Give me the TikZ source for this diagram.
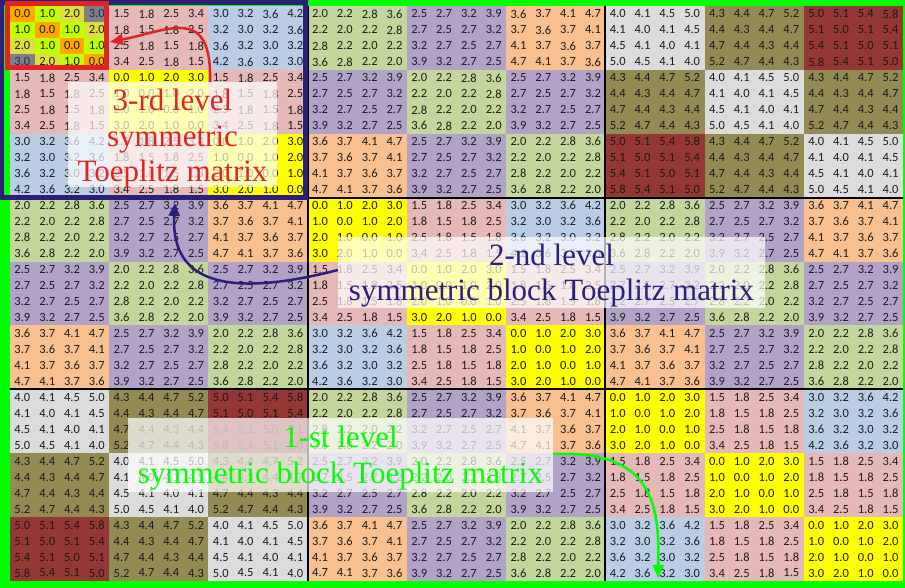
\documentclass[tikz,border=0pt]{standalone}
\usepackage{fontspec}
\setmainfont{Liberation Serif}
\newfontfamily\cellfont{Carlito}
\usetikzlibrary{arrows.meta}
\definecolor{b00}{HTML}{FFFF00}
\definecolor{b01}{HTML}{E6B9B8}
\definecolor{b02}{HTML}{B9CDE5}
\definecolor{b10}{HTML}{C3D69B}
\definecolor{b11}{HTML}{B3A2C7}
\definecolor{b12}{HTML}{FAC090}
\definecolor{b20}{HTML}{DCDCDC}
\definecolor{b21}{HTML}{948A54}
\definecolor{b22}{HTML}{953735}
\definecolor{tl0}{HTML}{FFA800}
\definecolor{tl1}{HTML}{C0FF00}
\definecolor{tl2}{HTML}{DEDE40}
\definecolor{tl3}{HTML}{808080}
\definecolor{lvlA}{HTML}{00FF00}
\definecolor{lvlB}{HTML}{2C1F7A}
\definecolor{lvlC}{HTML}{E02424}
\definecolor{numink}{HTML}{1A1A1A}
\definecolor{numblue}{HTML}{1F1F80}
\def\XO{10}\def\YO{6}\def\CW{24.806}\def\CH{15.972}
\tikzset{
  cell/.style={inner sep=0pt, font=\cellfont\fontsize{12.5}{12.5}\selectfont},
  framebox/.style={draw, line width=5pt, inner sep=0pt},
  lblbox/.style={fill=white, fill opacity=0.7, inner sep=0pt},
  lbltext/.style={inner sep=0pt, align=center, font=\fontsize{31}{35.5}\selectfont},
  conn/.style={line width=2.5pt, -{Triangle[length=13pt,width=11pt]}},
  blocksep/.style={line width=2pt, black},
}
\begin{document}
\begin{tikzpicture}[x=1pt,y=-1pt]
\useasboundingbox (0,0) rectangle (905,588);
% level-1 frame (green)
\fill[lvlA] (0,0) rectangle (905,588);
% block backgrounds
\foreach \I in {0,...,8}{
  \foreach \J in {0,...,8}{
    \pgfmathtruncatemacro\da{abs(int(\I/3)-int(\J/3))}
    \pgfmathtruncatemacro\db{abs(mod(\I,3)-mod(\J,3))}
    \fill[b\da\db] ({\XO+4*\J*\CW},{\YO+4*\I*\CH}) rectangle ({\XO+4*(\J+1)*\CW},{\YO+4*(\I+1)*\CH});
  }
}
% special colouring of the first 4x4 block
\foreach \r in {0,...,3}{
  \foreach \c in {0,...,3}{
    \pgfmathtruncatemacro\dc{abs(\r-\c)}
    \fill[tl\dc] ({\XO+\c*\CW},{\YO+\r*\CH}) rectangle ++(\CW,\CH);
  }
}
% numbers
\foreach \r in {0,...,35}{
  \foreach \c in {0,...,35}{
    \pgfmathtruncatemacro\da{abs(int(\r/12)-int(\c/12))}
    \pgfmathtruncatemacro\db{abs(mod(int(\r/4),3)-mod(int(\c/4),3))}
    \pgfmathtruncatemacro\dc{abs(mod(\r,4)-mod(\c,4))}
    \pgfmathtruncatemacro\tv{round(10*sqrt(4*\da*\da+2.25*\db*\db+\dc*\dc))}
    \pgfmathtruncatemacro\ti{int(\tv/10)}
    \pgfmathtruncatemacro\tf{\tv-10*\ti}
    \def\ink{numink}
    \ifnum\r<4 \ifnum\c<4 \ifnum\dc=3 \def\ink{numblue}\fi\fi\fi
    \node[cell, text=\ink] (c-\r-\c) at ({\XO+(\c+0.5)*\CW},{\YO+(\r+0.5)*\CH}) {\ti.\tf};
  }
}
% level-1 block separators
\draw[blocksep] ({\XO+12*\CW},\YO) -- ({\XO+12*\CW},{\YO+36*\CH});
\draw[blocksep] ({\XO+24*\CW},\YO) -- ({\XO+24*\CW},{\YO+36*\CH});
\draw[blocksep] (\XO,{\YO+12*\CH}) -- ({\XO+36*\CW},{\YO+12*\CH});
\draw[blocksep] (\XO,{\YO+24*\CH}) -- ({\XO+36*\CW},{\YO+24*\CH});
% level-2 and level-3 frames
\node[framebox, draw=lvlB, minimum width=304pt, minimum height=195pt] (lvl2) at (153.5,100) {};
\node[framebox, draw=lvlC, minimum width=99.5pt, minimum height=63.5pt] (lvl3) at (56.75,35.75) {};
% labels
\node[lblbox, minimum width=209pt, minimum height=105pt] (t3box) at (172.5,134.5) {};
\node[lbltext, text=lvlC] (t3) at (172.5,139) {3-rd level\\symmetric\\Toeplitz matrix};
\node[lblbox, minimum width=427pt, minimum height=71pt] (t2box) at (551.5,272.5) {};
\node[lbltext, text=lvlB] (t2) at (551.5,275.5) {2-nd level\\symmetric block Toeplitz matrix};
\node[lblbox, minimum width=425pt, minimum height=74pt] (t1box) at (340.5,455) {};
\node[lbltext, text=lvlA] (t1) at (340.5,458) {1-st level\\symmetric block Toeplitz matrix};
% arrows
\coordinate (a3s) at (210,82);
\coordinate (a3e) at (110,42);
\draw[conn, lvlC] (a3s) .. controls (212,5) and (170,30) .. (a3e);
\coordinate (a2s) at (338,270);
\coordinate (a2e) at (175,203);
\draw[conn, lvlB] (a2s) .. controls (240,295) and (170,290) .. (a2e);
\coordinate (a1s) at (553,454);
\coordinate (a1e) at (658,578);
\draw[conn, lvlA] (a1s) .. controls (650,450) and (660,500) .. (a1e);
\end{tikzpicture}
\end{document}
